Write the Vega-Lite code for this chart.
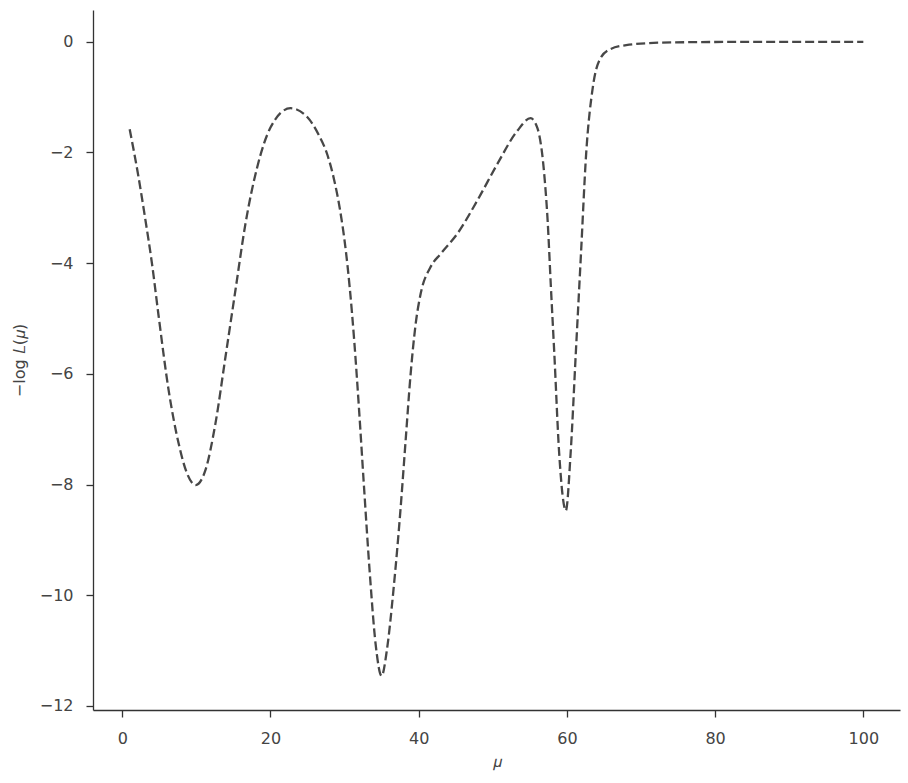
{
  "$schema": "https://vega.github.io/schema/vega-lite/v6.json",
  "width": 807,
  "height": 700,
  "autosize": {"type": "none"},
  "padding": {"left": 93, "top": 10, "right": 8, "bottom": 73},
  "background": "white",
  "config": {
    "view": {"stroke": null},
    "font": "DejaVu Sans",
    "axis": {
      "grid": false,
      "domainColor": "#333333",
      "domainWidth": 1.3,
      "tickColor": "#333333",
      "tickSize": 7,
      "tickWidth": 1.3,
      "labelColor": "#444444",
      "labelFont": "DejaVu Sans",
      "labelFontSize": 16,
      "labelPadding": 13,
      "titleColor": "#444444",
      "titleFont": "DejaVu Sans",
      "titleFontSize": 16,
      "titleFontWeight": "normal"
    }
  },
  "data": {
    "values": [
      {"mu": 1.0, "nll": -1.58},
      {"mu": 2.2, "nll": -2.45},
      {"mu": 3.1, "nll": -3.2},
      {"mu": 4.0, "nll": -4.0},
      {"mu": 4.9, "nll": -4.95},
      {"mu": 6.26, "nll": -6.3},
      {"mu": 7.61, "nll": -7.26},
      {"mu": 8.74, "nll": -7.8},
      {"mu": 9.9, "nll": -8.01},
      {"mu": 11.22, "nll": -7.74},
      {"mu": 12.57, "nll": -6.9},
      {"mu": 13.92, "nll": -5.7},
      {"mu": 15.27, "nll": -4.49},
      {"mu": 16.62, "nll": -3.29},
      {"mu": 18.2, "nll": -2.27},
      {"mu": 20.0, "nll": -1.55},
      {"mu": 22.7, "nll": -1.2},
      {"mu": 24.96, "nll": -1.36},
      {"mu": 26.5, "nll": -1.68},
      {"mu": 27.7, "nll": -2.05},
      {"mu": 28.6, "nll": -2.5},
      {"mu": 29.4, "nll": -3.05},
      {"mu": 30.1, "nll": -3.7},
      {"mu": 30.7, "nll": -4.45},
      {"mu": 31.3, "nll": -5.4},
      {"mu": 31.93, "nll": -6.6},
      {"mu": 32.6, "nll": -8.0},
      {"mu": 33.4, "nll": -9.6},
      {"mu": 34.2, "nll": -10.9},
      {"mu": 35.0, "nll": -11.46},
      {"mu": 35.7, "nll": -11.0},
      {"mu": 36.6, "nll": -9.9},
      {"mu": 37.57, "nll": -8.41},
      {"mu": 38.24, "nll": -7.2},
      {"mu": 38.92, "nll": -5.99},
      {"mu": 39.6, "nll": -5.09},
      {"mu": 40.27, "nll": -4.55},
      {"mu": 41.6, "nll": -4.07},
      {"mu": 42.97, "nll": -3.83},
      {"mu": 45.2, "nll": -3.47},
      {"mu": 47.9, "nll": -2.87},
      {"mu": 50.6, "nll": -2.21},
      {"mu": 53.3, "nll": -1.61},
      {"mu": 55.1, "nll": -1.38},
      {"mu": 56.0, "nll": -1.55},
      {"mu": 56.9, "nll": -2.33},
      {"mu": 57.4, "nll": -3.23},
      {"mu": 57.84, "nll": -4.43},
      {"mu": 58.3, "nll": -5.63},
      {"mu": 58.96, "nll": -7.44},
      {"mu": 59.86, "nll": -8.47},
      {"mu": 60.5, "nll": -7.44},
      {"mu": 61.2, "nll": -5.63},
      {"mu": 61.9, "nll": -3.83},
      {"mu": 62.6, "nll": -2.02},
      {"mu": 63.5, "nll": -0.82},
      {"mu": 64.6, "nll": -0.28},
      {"mu": 65.9, "nll": -0.13},
      {"mu": 68.0, "nll": -0.06},
      {"mu": 72.7, "nll": -0.015},
      {"mu": 80.0, "nll": -0.003},
      {"mu": 90.0, "nll": 0.0},
      {"mu": 100.0, "nll": 0.0}
    ]
  },
  "mark": {
    "type": "line",
    "interpolate": "monotone",
    "color": "#474747",
    "strokeWidth": 2.3,
    "strokeDash": [9, 4]
  },
  "encoding": {
    "x": {
      "field": "mu",
      "type": "quantitative",
      "title": "𝜇",
      "scale": {"domain": [-3.95, 104.95], "nice": false, "zero": false},
      "axis": {"values": [0, 20, 40, 60, 80, 100], "titlePadding": 7}
    },
    "y": {
      "field": "nll",
      "type": "quantitative",
      "title": "−log 𝐿(𝜇)",
      "scale": {"domain": [-12.075, 0.575], "nice": false, "zero": false},
      "axis": {"values": [-12, -10, -8, -6, -4, -2, 0], "titlePadding": 12}
    }
  }
}
